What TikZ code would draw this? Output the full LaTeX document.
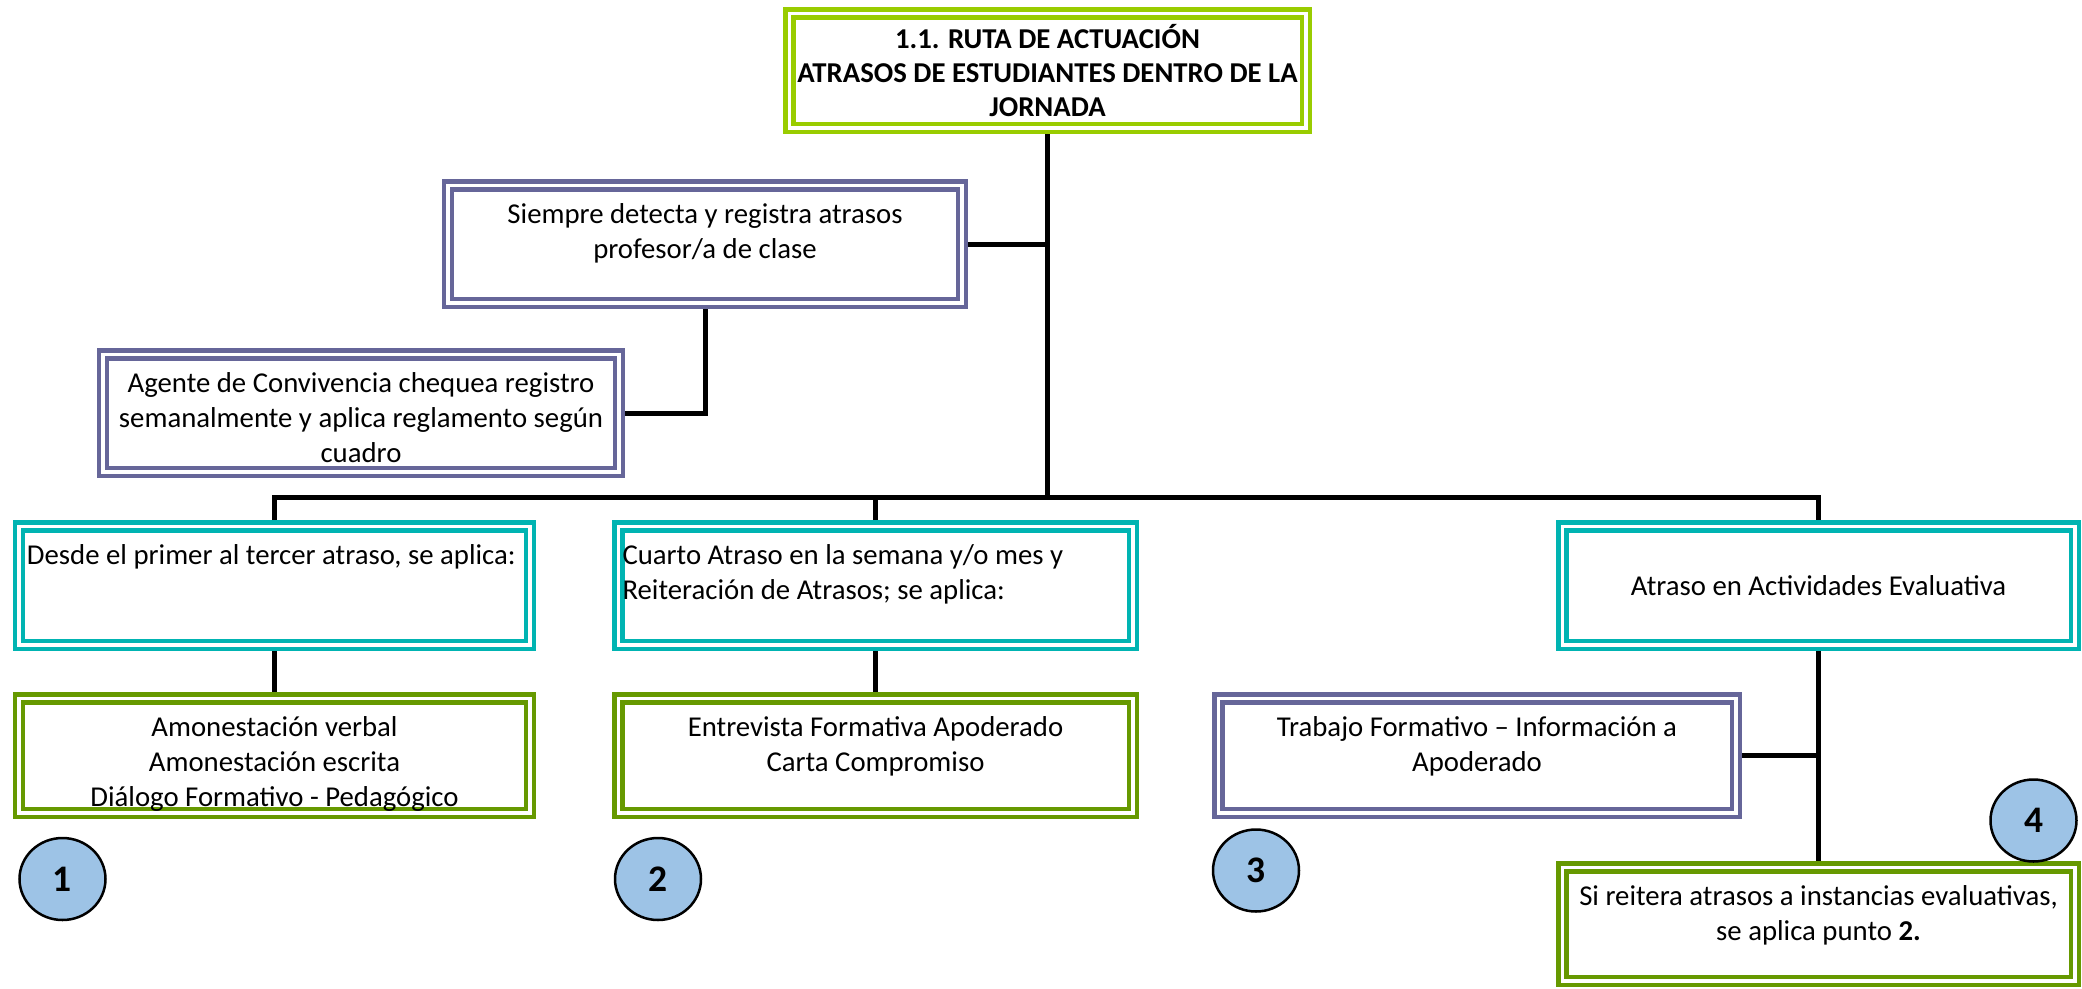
\documentclass[tikz,border=0pt]{standalone}
\usepackage{fontspec}
\setmainfont{Carlito}
\usetikzlibrary{
  shapes.geometric,
  calc
}

\definecolor{verdeclaro}{RGB}{153,204,0}
\definecolor{turquesa}{RGB}{0,180,178}
\definecolor{morado}{RGB}{102,102,153}
\definecolor{verdeoscuro}{RGB}{102,153,0}
\definecolor{celeste}{RGB}{157,195,230}

\newcommand{\caja}[4][\centering]{\parbox[c][#3][t]{#2}{#1\vspace*{5.6pt}\strut#4}}

\tikzset{
  marco/.style = {draw=#1, line width=1.8pt, double=white, double distance=1.4pt,
    inner sep=0pt, outer sep=2.5pt, font=\fontsize{11.5}{14}\selectfont},
  linea/.style = {line width=2pt, black},
  numero/.style = {ellipse, draw, line width=1pt, fill=celeste, inner sep=0pt,
    minimum width=34.4pt, minimum height=32.8pt, font=\fontsize{15}{15}\selectfont\bfseries}
}

\begin{document}
\begin{tikzpicture}[x=0.4pt, y=-0.4pt]
    \useasboundingbox (0,0) rectangle (2082,988);

    \node[marco=verdeclaro, minimum width=206.6pt, minimum height=45.8pt, align=center,
      font=\fontsize{11.5}{13.6}\selectfont\bfseries] (titulo) at (1047.5,70.5)
      {1.1. RUTA DE ACTUACIÓN\\ATRASOS DE ESTUDIANTES DENTRO DE LA\\JORNADA};

    \node[marco=morado, minimum width=205.4pt, minimum height=47pt] (siempre) at (705,244)
      {\caja{195.4pt}{47pt}{Siempre detecta y registra atrasos\\profesor/a de clase}};
    \node[marco=morado, minimum width=206.2pt, minimum height=47pt] (agente) at (361,413)
      {\caja{196.2pt}{47pt}{Agente de Convivencia chequea registro\\semanalmente y aplica reglamento según\\cuadro}};

    \node[marco=turquesa, minimum width=204.2pt, minimum height=47.4pt] (desde) at (274.5,585.5)
      {\caja[\raggedright]{198pt}{47.4pt}{Desde el primer al tercer atraso, se aplica:}};
    \node[marco=turquesa, minimum width=205.8pt, minimum height=47.4pt] (cuarto) at (875.5,585.5)
      {\caja[\raggedright]{202.4pt}{47.4pt}{Cuarto Atraso en la semana y/o mes y\\Reiteración de Atrasos; se aplica:}};
    \node[marco=turquesa, minimum width=205pt, minimum height=47.4pt] (evaluativa) at (1818.5,585.5)
      {Atraso en Actividades Evaluativa};

    \node[marco=verdeoscuro, minimum width=204.2pt, minimum height=45.8pt] (amonest) at (274.5,755.5)
      {\caja{194.2pt}{45.8pt}{Amonestación verbal\\Amonestación escrita\\Diálogo Formativo - Pedagógico}};
    \node[marco=verdeoscuro, minimum width=205.8pt, minimum height=45.8pt] (entrevista) at (875.5,755.5)
      {\caja{195.8pt}{45.8pt}{Entrevista Formativa Apoderado\\Carta Compromiso}};
    \node[marco=morado, minimum width=207pt, minimum height=45.8pt] (trabajo) at (1477,755.5)
      {\caja{197pt}{45.8pt}{Trabajo Formativo – Información a\\Apoderado}};
    \node[marco=verdeoscuro, minimum width=205pt, minimum height=45.4pt] (reitera) at (1818.5,924)
      {\caja{195pt}{45.4pt}{Si reitera atrasos a instancias evaluativas,\\se aplica punto \textbf{2.}}};

    \node[numero] (n1) at (62.5,879) {1};
    \node[numero] (n2) at (658,879) {2};
    \node[numero] (n3) at (1256,870.5) {3};
    \node[numero] (n4) at (2033.5,820.5) {4};

    % conectores
    \coordinate (nudo) at (1047.5,497);
    \draw[linea] (titulo.south) -- (nudo);
    \draw[linea] (siempre.east) -- (siempre.east -| titulo.south);
    \draw[linea] (siempre.south) |- (agente.east);
    \draw[linea] (desde.north) |- (nudo) -| (evaluativa.north);
    \draw[linea] (cuarto.north) -- (cuarto.north |- nudo);
    \draw[linea] (desde.south) -- (amonest.north);
    \draw[linea] (cuarto.south) -- (entrevista.north);
    \draw[linea] (evaluativa.south) -- (reitera.north);
    \draw[linea] (trabajo.east) -- (trabajo.east -| evaluativa.south);
\end{tikzpicture}
\end{document}
